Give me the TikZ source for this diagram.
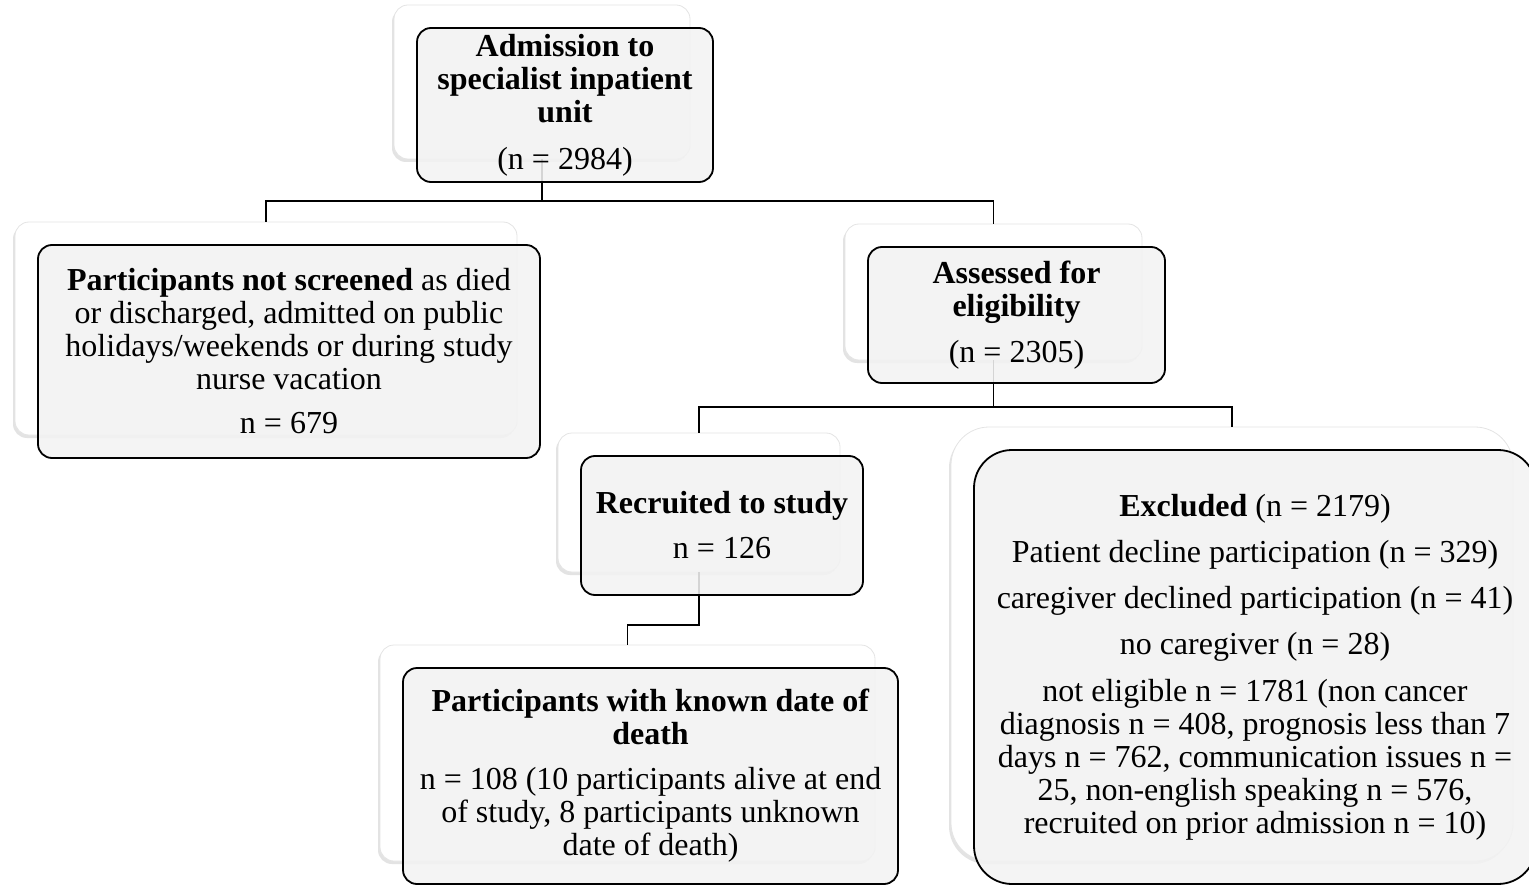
\documentclass[tikz,border=0pt]{standalone}
\usepackage{fontspec}
\setmainfont{Liberation Serif}
\usetikzlibrary{shadows}
\definecolor{frontfill}{HTML}{F2F2F2}
\definecolor{backedge}{HTML}{E4E4E4}
\begin{document}
\begin{tikzpicture}[x=1pt,y=-1pt,
  backbox/.style={draw=backedge, line width=0.8pt, fill=white, rounded corners=14pt, inner sep=0pt,
    drop shadow={shadow xshift=-2pt, shadow yshift=-3pt, opacity=0.18, fill=black!60}},
  frontbox/.style={draw=black, line width=1.8pt, fill=frontfill, fill opacity=0.88, text opacity=1,
    rounded corners=14pt, inner sep=0pt, align=center, font=\fontsize{32}{33}\selectfont},
  link/.style={draw=black, line width=1.8pt}]
\useasboundingbox (0,0) rectangle (1529,885);

% back boxes
\node[backbox, minimum width=296pt, minimum height=154pt] (b1) at (542,82) {};
\node[backbox, minimum width=502pt, minimum height=213pt] (b2) at (266,328.5) {};
\node[backbox, minimum width=297pt, minimum height=136pt] (b3) at (993.5,292) {};
\node[backbox, minimum width=282pt, minimum height=139pt] (b4) at (699,502.5) {};
\node[backbox, minimum width=495pt, minimum height=216pt] (b5) at (627.5,753) {};
\node[backbox, rounded corners=38pt, minimum width=562pt, minimum height=434pt] (b6) at (1232,644) {};

% connectors
\coordinate (j1) at (542,201);
\coordinate (j2) at (993.5,407);
\coordinate (j3) at (699,625);
\draw[link] (b1.south) -- (j1);
\draw[link] (b2.north) |- (j1) -| (b3.north);
\draw[link] (b3.south) -- (j2);
\draw[link] (b4.north) |- (j2) -| (b6.north);
\draw[link] (b4.south) -- (j3) -| (b5.north);

% front boxes
\node[frontbox, minimum width=296pt, minimum height=154pt] (f1) at (565,105) {\textbf{Admission to}\\ \textbf{specialist inpatient}\\ \textbf{unit}\\[14pt] (n = 2984)};
\node[frontbox, minimum width=502pt, minimum height=213pt] (f2) at (289,351.5) {\textbf{Participants not screened} as died\\ or discharged, admitted on public\\ holidays/weekends or during study\\ nurse vacation\\[11pt] n = 679};
\node[frontbox, minimum width=297pt, minimum height=136pt] (f3) at (1016.5,315) {\textbf{Assessed for}\\ \textbf{eligibility}\\[13pt] (n = 2305)};
\node[frontbox, minimum width=282pt, minimum height=139pt] (f4) at (722,525.5) {\textbf{Recruited to study}\\[12pt] n = 126};
\node[frontbox, minimum width=495pt, minimum height=216pt] (f5) at (650.5,776) {\textbf{Participants with known date of}\\ \textbf{death}\\[12pt] n = 108 (10 participants alive at end\\ of study, 8 participants unknown\\ date of death)};
\node[frontbox, rounded corners=38pt, minimum width=562pt, minimum height=434pt] (f6) at (1255,667) {\textbf{Excluded} (n = 2179)\\[13pt] Patient decline participation (n = 329)\\[13pt] caregiver declined participation (n = 41)\\[13pt] no caregiver (n = 28)\\[14pt] not eligible n = 1781 (non cancer\\ diagnosis n = 408, prognosis less than 7\\ days n = 762, communication issues n =\\ 25, non-english speaking n = 576,\\ recruited on prior admission n = 10)};
\end{tikzpicture}
\end{document}
